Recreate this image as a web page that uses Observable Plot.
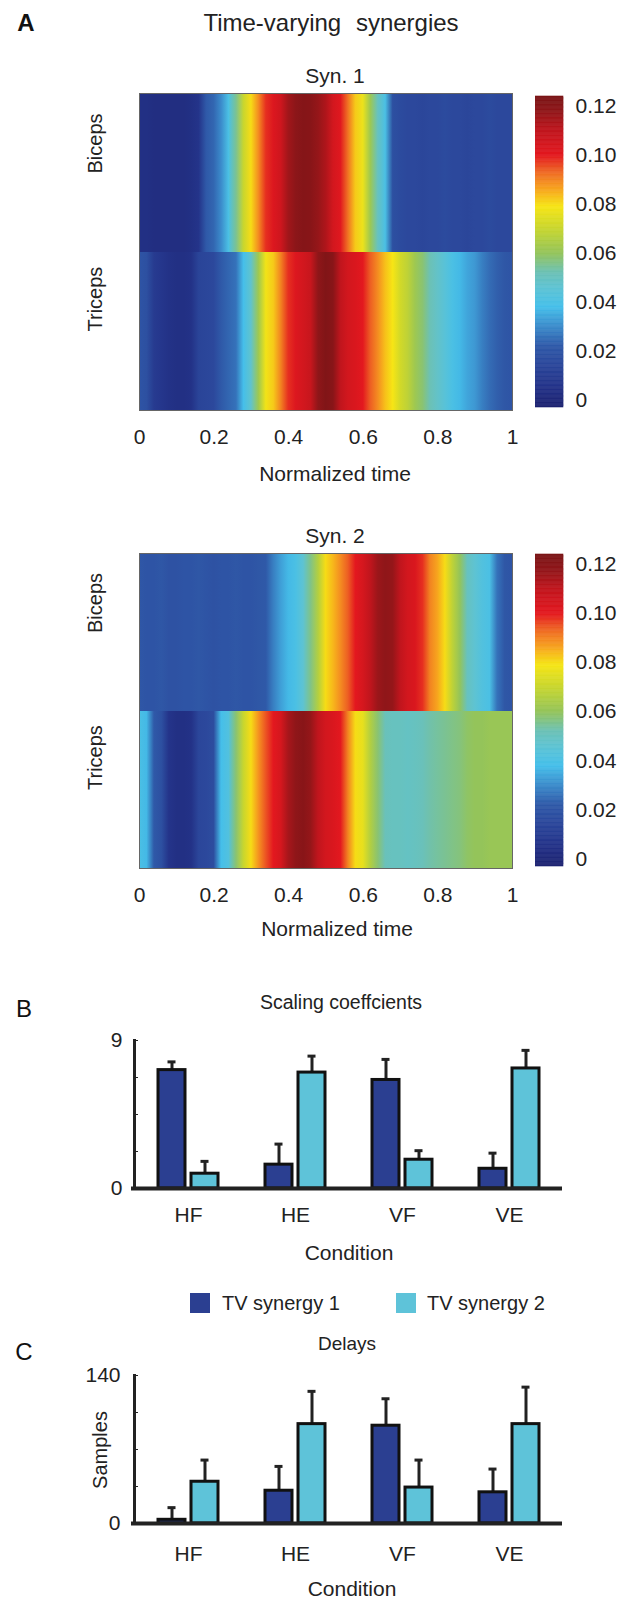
<!DOCTYPE html>
<html>
<head>
<meta charset="utf-8">
<script src="https://cdn.jsdelivr.net/npm/d3@7"></script>
<script src="https://cdn.jsdelivr.net/npm/@observablehq/plot@0.6"></script>
<style>
  body { margin: 0; background: #fff; }
  #page { position: relative; width: 622px; height: 1599px; font-family: "Liberation Sans", Arial, sans-serif; color: #222; overflow: hidden; }
  .t { position: absolute; transform: translate(-50%, -50%); white-space: nowrap; line-height: 1; font-size: 21px; }
  .plot { position: absolute; }
  .sw { position: absolute; width: 20px; height: 20px; }
</style>
</head>
<body>
<div id="page"></div>
<script>
// Sample grid of the synergy waveforms (normalized time, step 0.02)
const times = d3.range(51).map(i => +(i * 0.02).toFixed(2));
const muscles = ["Biceps", "Triceps"];

// Time-varying synergy 1
const syn1Biceps = [0.004, 0.004, 0.003, 0.003, 0.003, 0.003, 0.003, 0.004, 0.006, 0.022,
  0.024, 0.03, 0.04, 0.055, 0.07, 0.08, 0.089, 0.098, 0.102, 0.106,
  0.115, 0.119, 0.121, 0.12, 0.117, 0.113, 0.105, 0.101, 0.092, 0.082,
  0.077, 0.062, 0.05, 0.04, 0.018, 0.016, 0.015, 0.015, 0.014, 0.015,
  0.015, 0.016, 0.015, 0.015, 0.014, 0.015, 0.015, 0.016, 0.015, 0.015, 0.015];
const syn1Triceps = [0.02, 0.018, 0.009, 0.007, 0.005, 0.004, 0.004, 0.005, 0.013, 0.014,
  0.015, 0.022, 0.024, 0.026, 0.038, 0.047, 0.062, 0.078, 0.082, 0.09,
  0.098, 0.102, 0.105, 0.108, 0.118, 0.122, 0.12, 0.11, 0.105, 0.103,
  0.1, 0.094, 0.089, 0.083, 0.079, 0.072, 0.068, 0.062, 0.058, 0.052,
  0.048, 0.044, 0.04, 0.037, 0.034, 0.032, 0.028, 0.025, 0.023, 0.021, 0.02];

// Time-varying synergy 2
const syn2Biceps = [0.021, 0.02, 0.02, 0.021, 0.019, 0.019, 0.02, 0.02, 0.021, 0.02,
  0.019, 0.02, 0.02, 0.021, 0.02, 0.02, 0.021, 0.022, 0.028, 0.033,
  0.037, 0.04, 0.046, 0.056, 0.066, 0.08, 0.084, 0.089, 0.094, 0.1,
  0.104, 0.11, 0.116, 0.118, 0.117, 0.11, 0.105, 0.103, 0.098, 0.09,
  0.086, 0.08, 0.068, 0.06, 0.05, 0.046, 0.042, 0.04, 0.026, 0.021, 0.02];
const syn2Triceps = [0.04, 0.037, 0.022, 0.018, 0.006, 0.004, 0.004, 0.005, 0.014, 0.015,
  0.017, 0.038, 0.042, 0.058, 0.07, 0.08, 0.088, 0.095, 0.1, 0.104,
  0.114, 0.118, 0.12, 0.117, 0.11, 0.105, 0.103, 0.1, 0.09, 0.08,
  0.076, 0.066, 0.058, 0.051, 0.05, 0.05, 0.049, 0.05, 0.051, 0.053,
  0.054, 0.055, 0.056, 0.057, 0.059, 0.06, 0.06, 0.061, 0.061, 0.061, 0.061];

// Colour map (value stops and colours)
const cmapValues = [-0.003, 0.006, 0.014, 0.022, 0.03, 0.038, 0.046, 0.052, 0.06, 0.07, 0.079, 0.086, 0.093, 0.1, 0.11, 0.118, 0.124];
const cmapColors = ["#1d2370", "#24348a", "#2b469a", "#2f59a8", "#3b8bcb", "#45bfea", "#5ec3d2", "#6cc1b5", "#94c45a", "#c8d62e", "#f6e515", "#f7a51e", "#ef6a24", "#e3181f", "#c0151d", "#8f1619", "#7a1416"];
const colorbarTicks = [0, 0.02, 0.04, 0.06, 0.08, 0.1, 0.12];
const timeTicks = [0, 0.2, 0.4, 0.6, 0.8, 1];

// Bar charts
const conditions = ["HF", "HE", "VF", "VE"];
const synergyNames = ["TV synergy 1", "TV synergy 2"];
const synergyColors = ["#2b3f91", "#5ec3d9"];
const scalingSyn1 = [7.2, 1.45, 6.6, 1.2];
const scalingSyn1Err = [0.5, 1.25, 1.25, 0.95];
const scalingSyn2 = [0.9, 7.05, 1.75, 7.3];
const scalingSyn2Err = [0.75, 1.0, 0.55, 1.1];
const scalingTicks = [0, 2.25, 4.5, 6.75, 9];
const delaySyn1 = [3.5, 31, 92.5, 29.5];
const delaySyn1Err = [11.5, 23, 25.5, 22];
const delaySyn2 = [39.5, 94, 34, 94];
const delaySyn2Err = [20.5, 31, 26, 35];
const delayTicks = [0, 35, 70, 105, 140];

const FONT = "'Liberation Sans', Arial, sans-serif";
const page = document.getElementById("page");

function text(str, x, y, style = "") {
  const d = document.createElement("div");
  d.className = "t";
  d.textContent = str;
  d.style.cssText += `left:${x}px;top:${y}px;${style}`;
  page.appendChild(d);
  return d;
}
function place(node, left, top) {
  node.classList.add("plot");
  node.style.left = left + "px";
  node.style.top = top + "px";
  page.appendChild(node);
}

const colorOptions = {type: "linear", domain: cmapValues, range: cmapColors, interpolate: "rgb", clamp: true};
const jet = Plot.scale({color: colorOptions});

function heatmap(id, rows, top, frameHeight) {
  const svg = Plot.plot({
    width: 530, height: 33 + frameHeight + 40,
    marginLeft: 139, marginRight: 18, marginTop: 33, marginBottom: 40,
    style: {fontFamily: FONT, fontSize: "21px", color: "#222", background: "transparent"},
    x: {domain: [0, 1], ticks: timeTicks, tickFormat: d3.format("~g"), tickSize: 0, tickPadding: 19, label: null},
    y: {domain: muscles, padding: 0, axis: null},
    marks: [
      ...muscles.map((m, i) => Plot.barX([m], {x1: 0, x2: 1, y: d => d, fill: `url(#${id}-${i})`})),
      Plot.text(muscles, {y: d => d, frameAnchor: "left", dx: -44, rotate: -90, fontSize: 20}),
      Plot.frame({stroke: "#666", strokeWidth: 1})
    ]
  });
  const defs = d3.select(svg).insert("defs", ":first-child");
  rows.forEach((vals, i) => {
    const g = defs.append("linearGradient").attr("id", `${id}-${i}`)
      .attr("x1", 0).attr("x2", 1).attr("y1", 0).attr("y2", 0);
    vals.forEach((v, j) => g.append("stop").attr("offset", times[j]).attr("stop-color", jet.apply(v)));
  });
  place(svg, 0, top);
}

function colorbar(top, frameHeight) {
  const lo = cmapValues[0], hi = cmapValues[cmapValues.length - 1];
  const n = 240, step = (hi - lo) / n;
  const ramp = d3.range(n).map(i => lo + (i + 0.5) * step);
  const svg = Plot.plot({
    width: 87, height: 10 + frameHeight + 12,
    marginLeft: 0, marginRight: 59, marginTop: 10, marginBottom: 12,
    style: {fontFamily: FONT, fontSize: "21px", color: "#222", background: "transparent"},
    x: {domain: [0, 1], axis: null},
    y: {domain: [lo, hi], axis: "right", ticks: colorbarTicks, tickFormat: d => d === 0 ? "0" : d3.format(".2f")(d), tickSize: 0, tickPadding: 12, label: null},
    color: colorOptions,
    marks: [
      Plot.rect(ramp, {x1: 0, x2: 1, y1: d => d - step / 2, y2: d => d + step / 2, fill: d => d, stroke: d => d, strokeWidth: 0.6})
    ]
  });
  place(svg, 535, top);
}

function barChart(top, s1, e1, s2, e2, yMax, yTicks, tickPadY, tickPadX) {
  const d1 = conditions.map((c, i) => ({condition: c, value: s1[i], err: e1[i]}));
  const d2 = conditions.map((c, i) => ({condition: c, value: s2[i], err: e2[i]}));
  const half = 16.5;
  const svg = Plot.plot({
    width: 622, height: 209,
    marginLeft: 134, marginRight: 60, marginTop: 20, marginBottom: 41,
    style: {fontFamily: FONT, fontSize: "21px", color: "#222", background: "transparent"},
    x: {domain: conditions, paddingInner: 0.44, paddingOuter: 0.22, tickSize: 0, tickPadding: tickPadX, label: null},
    y: {domain: [0, yMax], ticks: yTicks, tickFormat: d => (d === 0 || d === yMax) ? String(d) : "", tickSize: -4, tickPadding: tickPadY, label: null},
    marks: [
      Plot.ruleX(d1, {x: "condition", y1: "value", y2: d => d.value + d.err, dx: -half, strokeWidth: 3}),
      Plot.ruleX(d2, {x: "condition", y1: "value", y2: d => d.value + d.err, dx: half, strokeWidth: 3}),
      Plot.tickY(d1, {x: "condition", y: d => d.value + d.err, insetLeft: 9.5, insetRight: 42.5, strokeWidth: 3}),
      Plot.tickY(d2, {x: "condition", y: d => d.value + d.err, insetLeft: 42.5, insetRight: 9.5, strokeWidth: 3}),
      Plot.barY(d1, {x: "condition", y: "value", fill: synergyColors[0], stroke: "#111", strokeWidth: 3, insetRight: 33}),
      Plot.barY(d2, {x: "condition", y: "value", fill: synergyColors[1], stroke: "#111", strokeWidth: 3, insetLeft: 33}),
      Plot.frame({anchor: "left", strokeWidth: 3}),
      Plot.ruleY([0], {strokeWidth: 4, insetLeft: -3})
    ]
  });
  place(svg, 0, top);
}

// Panel A
text("A", 26, 23, "font-size:24px;font-weight:bold;color:#111");
text("Time-varying synergies", 331, 23, "font-size:24px;word-spacing:8px");
text("Syn. 1", 335, 75);
heatmap("s1", [syn1Biceps, syn1Triceps], 60, 317);
colorbar(86, 311);
text("Normalized time", 335, 473);

text("Syn. 2", 335, 535);
heatmap("s2", [syn2Biceps, syn2Triceps], 520, 315);
colorbar(544, 312);
text("Normalized time", 337, 928);

// Panel B
text("B", 24, 1009, "font-size:24px;color:#111");
text("Scaling coeffcients", 341, 1003, "font-size:19.5px");
barChart(1020, scalingSyn1, scalingSyn1Err, scalingSyn2, scalingSyn2Err, 9, scalingTicks, 16, 19);
text("Condition", 349, 1252);

// Legend
synergyNames.forEach((name, i) => {
  const sw = document.createElement("div");
  sw.className = "sw";
  sw.style.left = [190, 396][i] + "px";
  sw.style.top = "1293px";
  sw.style.background = synergyColors[i];
  page.appendChild(sw);
  const t = text(name, 0, 1303, "font-size:20px");
  t.style.transform = "translate(0,-50%)";
  t.style.left = [222, 427][i] + "px";
});

// Panel C
text("C", 24, 1352, "font-size:24px;color:#111");
text("Delays", 347, 1343, "font-size:19px");
barChart(1355, delaySyn1, delaySyn1Err, delaySyn2, delaySyn2Err, 140, delayTicks, 18, 23);
text("Samples", 100, 1450, "font-size:20px;transform:translate(-50%,-50%) rotate(-90deg)");
text("Condition", 352, 1588);
</script>
</body>
</html>
